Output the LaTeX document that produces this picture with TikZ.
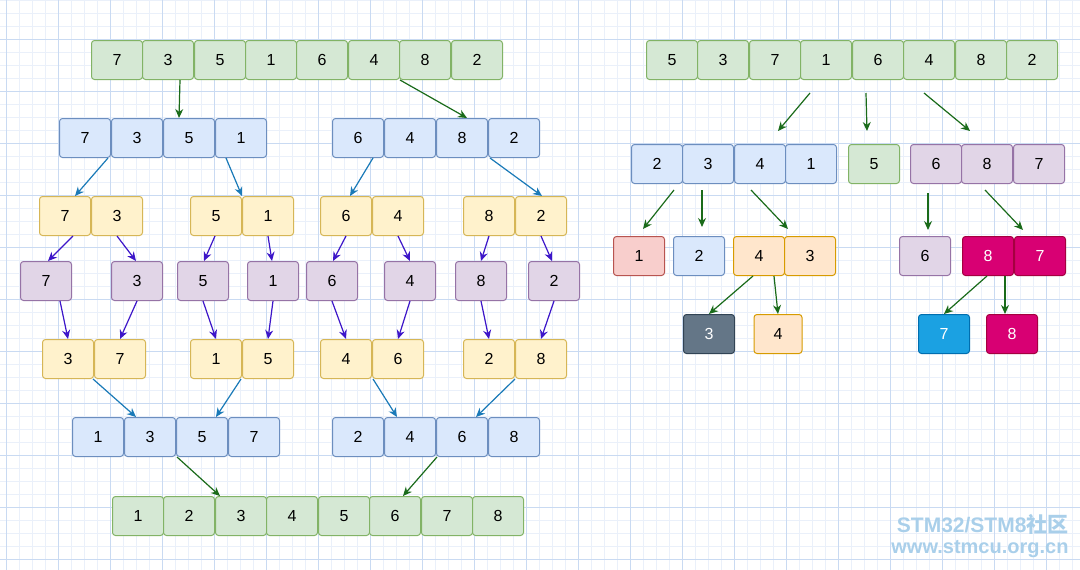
\documentclass[tikz,border=0pt]{standalone}
\usepackage{fontspec}
\setmainfont{Liberation Sans}
\newfontfamily\cjk{Noto Sans CJK SC}
\usetikzlibrary{arrows.meta}
\definecolor{gF}{HTML}{D5E8D4}\definecolor{gD}{HTML}{82B366}
\definecolor{bF}{HTML}{DAE8FC}\definecolor{bD}{HTML}{6C8EBF}
\definecolor{yF}{HTML}{FFF2CC}\definecolor{yD}{HTML}{D6B656}
\definecolor{pF}{HTML}{E1D5E7}\definecolor{pD}{HTML}{9673A6}
\definecolor{rF}{HTML}{F8CECC}\definecolor{rD}{HTML}{B85450}
\definecolor{oF}{HTML}{FFE6CC}\definecolor{oD}{HTML}{D79B00}
\definecolor{kF}{HTML}{647687}\definecolor{kD}{HTML}{314354}
\definecolor{cF}{HTML}{1BA1E2}\definecolor{cD}{HTML}{006EAF}
\definecolor{mF}{HTML}{D80073}\definecolor{mD}{HTML}{A50040}
\definecolor{arG}{HTML}{1A6B1A}\definecolor{arB}{HTML}{1A7AB8}\definecolor{arP}{HTML}{3D16C9}
\definecolor{gridmin}{HTML}{EAF0FA}\definecolor{gridmaj}{HTML}{C9DAF2}
\definecolor{wm}{HTML}{A9CFEA}
\tikzset{
 box/.style={draw, line width=1pt, rounded corners=3pt, minimum width=51pt, minimum height=39pt, inner sep=0pt, font=\fontsize{16}{16}\selectfont},
 G/.style={box, fill=gF, draw=gD}, B/.style={box, fill=bF, draw=bD},
 Y/.style={box, fill=yF, draw=yD}, P/.style={box, fill=pF, draw=pD},
 R/.style={box, fill=rF, draw=rD}, O/.style={box, fill=oF, draw=oD},
 K/.style={box, fill=kF, draw=kD, text=white}, C/.style={box, fill=cF, draw=cD, text=white},
 M/.style={box, fill=mF, draw=mD, text=white},
 ag/.style={draw=arG, line width=1.2pt, -{Stealth[length=9pt,width=8pt]}},
 ab/.style={draw=arB, line width=1.2pt, -{Stealth[length=9pt,width=8pt]}},
 ap/.style={draw=arP, line width=1.2pt, -{Stealth[length=9pt,width=8pt]}},
}
\begin{document}
\begin{tikzpicture}[x=1pt,y=-1pt]
\useasboundingbox (0,0) rectangle (1080,570);
\fill[white] (0,0) rectangle (1080,570);
\foreach \i in {0,...,83} \draw[gridmin,line width=0.5pt] ({6+13*\i},0) -- ({6+13*\i},570);
\foreach \i in {0,...,44} \draw[gridmin,line width=0.5pt] (0,{0+13*\i}) -- (1080,{0+13*\i});
\foreach \i in {0,...,20} \draw[gridmaj,line width=0.7pt] ({6+52*\i},0) -- ({6+52*\i},570);
\foreach \i in {0,...,10} \draw[gridmaj,line width=0.7pt] (0,{39+52*\i}) -- (1080,{39+52*\i});
% ---- left
\foreach \x/\t [count=\n] in {117/7,168/3,220/5,271/1,322/6,374/4,425/8,477/2} \node[G] (a\n) at (\x,60) {\t};
\foreach \x/\t [count=\n] in {85/7,137/3,189/5,241/1,358/6,410/4,462/8,514/2} \node[B] (b\n) at (\x,138) {\t};
\foreach \x/\t [count=\n] in {65/7,117/3,216/5,268/1,346/6,398/4,489/8,541/2} \node[Y] (c\n) at (\x,216) {\t};
\foreach \x/\t [count=\n] in {46/7,137/3,203/5,273/1,332/6,410/4,481/8,554/2} \node[P] (d\n) at (\x,281) {\t};
\foreach \x/\t [count=\n] in {68/3,120/7,216/1,268/5,346/4,398/6,489/2,541/8} \node[Y] (e\n) at (\x,359) {\t};
\foreach \x/\t [count=\n] in {98/1,150/3,202/5,254/7,358/2,410/4,462/6,514/8} \node[B] (f\n) at (\x,437) {\t};
\foreach \x/\t [count=\n] in {138/1,189/2,241/3,292/4,344/5,395/6,447/7,498/8} \node[G] (h\n) at (\x,516) {\t};
\draw[ag] ([xshift=-14pt]a2.south east) -- ([xshift=-10pt]b3.north);
\draw[ag] ([xshift=-25pt]a7.south) -- ([xshift=-21pt]b7.north east);
\draw[ab] ([xshift=-3pt]b1.south east) -- ([xshift=-16pt]c1.north east);
\draw[ab] ([xshift=-15pt]b4.south) -- (c4.north west);
\draw[ab] ([xshift=-11pt]b5.south east) -- ([xshift=-22pt]c5.north east);
\draw[ab] ([xshift=-24pt]b8.south) -- ([xshift=-25pt]c8.north east);
\foreach \i/\a/\b in {1/8/2,2/0/-1,3/-1/1,4/0/-1,5/0/1,6/0/0,7/0/0,8/0/-2}{
  \draw[ap] ([xshift=\a pt]c\i.south) -- ([xshift=\b pt]d\i.north);}
\draw[ap] ([xshift=14pt]d1.south) -- (e1.north);
\foreach \i in {2,...,8} \draw[ap] (d\i.south) -- (e\i.north);
\draw[ab] ([xshift=25pt]e1.south) -- ([xshift=-14pt]f2.north);
\draw[ab] ([xshift=-27pt]e4.south) -- ([xshift=14pt]f3.north);
\draw[ab] ([xshift=27pt]e5.south) -- ([xshift=-13pt]f6.north);
\draw[ab] ([xshift=-26pt]e8.south) -- ([xshift=14pt]f7.north);
\draw[ag] ([xshift=27pt]f2.south) -- ([xshift=-21pt]h3.north);
\draw[ag] ([xshift=27pt]f6.south) -- ([xshift=8pt]h6.north);
% ---- right
\foreach \x/\t [count=\n] in {672/5,723/3,775/7,826/1,878/6,929/4,981/8,1032/2} \node[G] (p\n) at (\x,60) {\t};
\foreach \x/\t [count=\n] in {657/2,708/3,760/4,811/1} \node[B] (q\n) at (\x,164) {\t};
\node[G] (q5) at (874,164) {5};
\foreach \x/\t [count=\n] in {936/6,987/8,1039/7} \node[P] (r\n) at (\x,164) {\t};
\node[R] (s1) at (639,256) {1};
\node[B] (s2) at (699,256) {2};
\node[O] (s3) at (759,256) {4};
\node[O] (s4) at (810,256) {3};
\node[P] (s5) at (925,256) {6};
\node[M] (s6) at (988,256) {8};
\node[M] (s7) at (1040,256) {7};
\node[K] (t1) at (709,334) {3};
\node[O,minimum width=48pt] (t2) at (778,334) {4};
\node[C] (t3) at (944,334) {7};
\node[M] (t4) at (1012,334) {8};
\coordinate (u1) at (810,93); \coordinate (u2) at (866,93); \coordinate (u3) at (924,93);
\coordinate (v1) at (778,131); \coordinate (v2) at (867,131); \coordinate (v3) at (970,131);
\draw[ag] (u1) -- (v1); \draw[ag] (u2) -- (v2); \draw[ag] (u3) -- (v3);
\coordinate (w1) at (674,190); \coordinate (w2) at (702,190); \coordinate (w3) at (751,190);
\coordinate (w4) at (928,193); \coordinate (w5) at (985,190);
\coordinate (x1) at (643,229); \coordinate (x2) at (702,227); \coordinate (x3) at (788,229);
\coordinate (x4) at (928,230); \coordinate (x5) at (1023,230);
\foreach \i in {1,...,5} \draw[ag] (w\i) -- (x\i);
\draw[ag] ([xshift=-6pt]s3.south) -- (t1.north);
\draw[ag] ([xshift=15pt]s3.south) -- (t2.north);
\draw[ag] ([xshift=-1pt]s6.south) -- (t3.north);
\draw[ag] ([xshift=17pt]s6.south) -- ([xshift=-7pt]t4.north);
% watermark
\node[wm, font=\fontsize{21}{21}\selectfont\bfseries, anchor=east] (wm1) at (1072,524) {STM32/STM8{\cjk 社区}};
\node[wm, font=\fontsize{20}{20}\selectfont\bfseries, anchor=east] (wm2) at (1072,549) {www.stmcu.org.cn};
\end{tikzpicture}
\end{document}
